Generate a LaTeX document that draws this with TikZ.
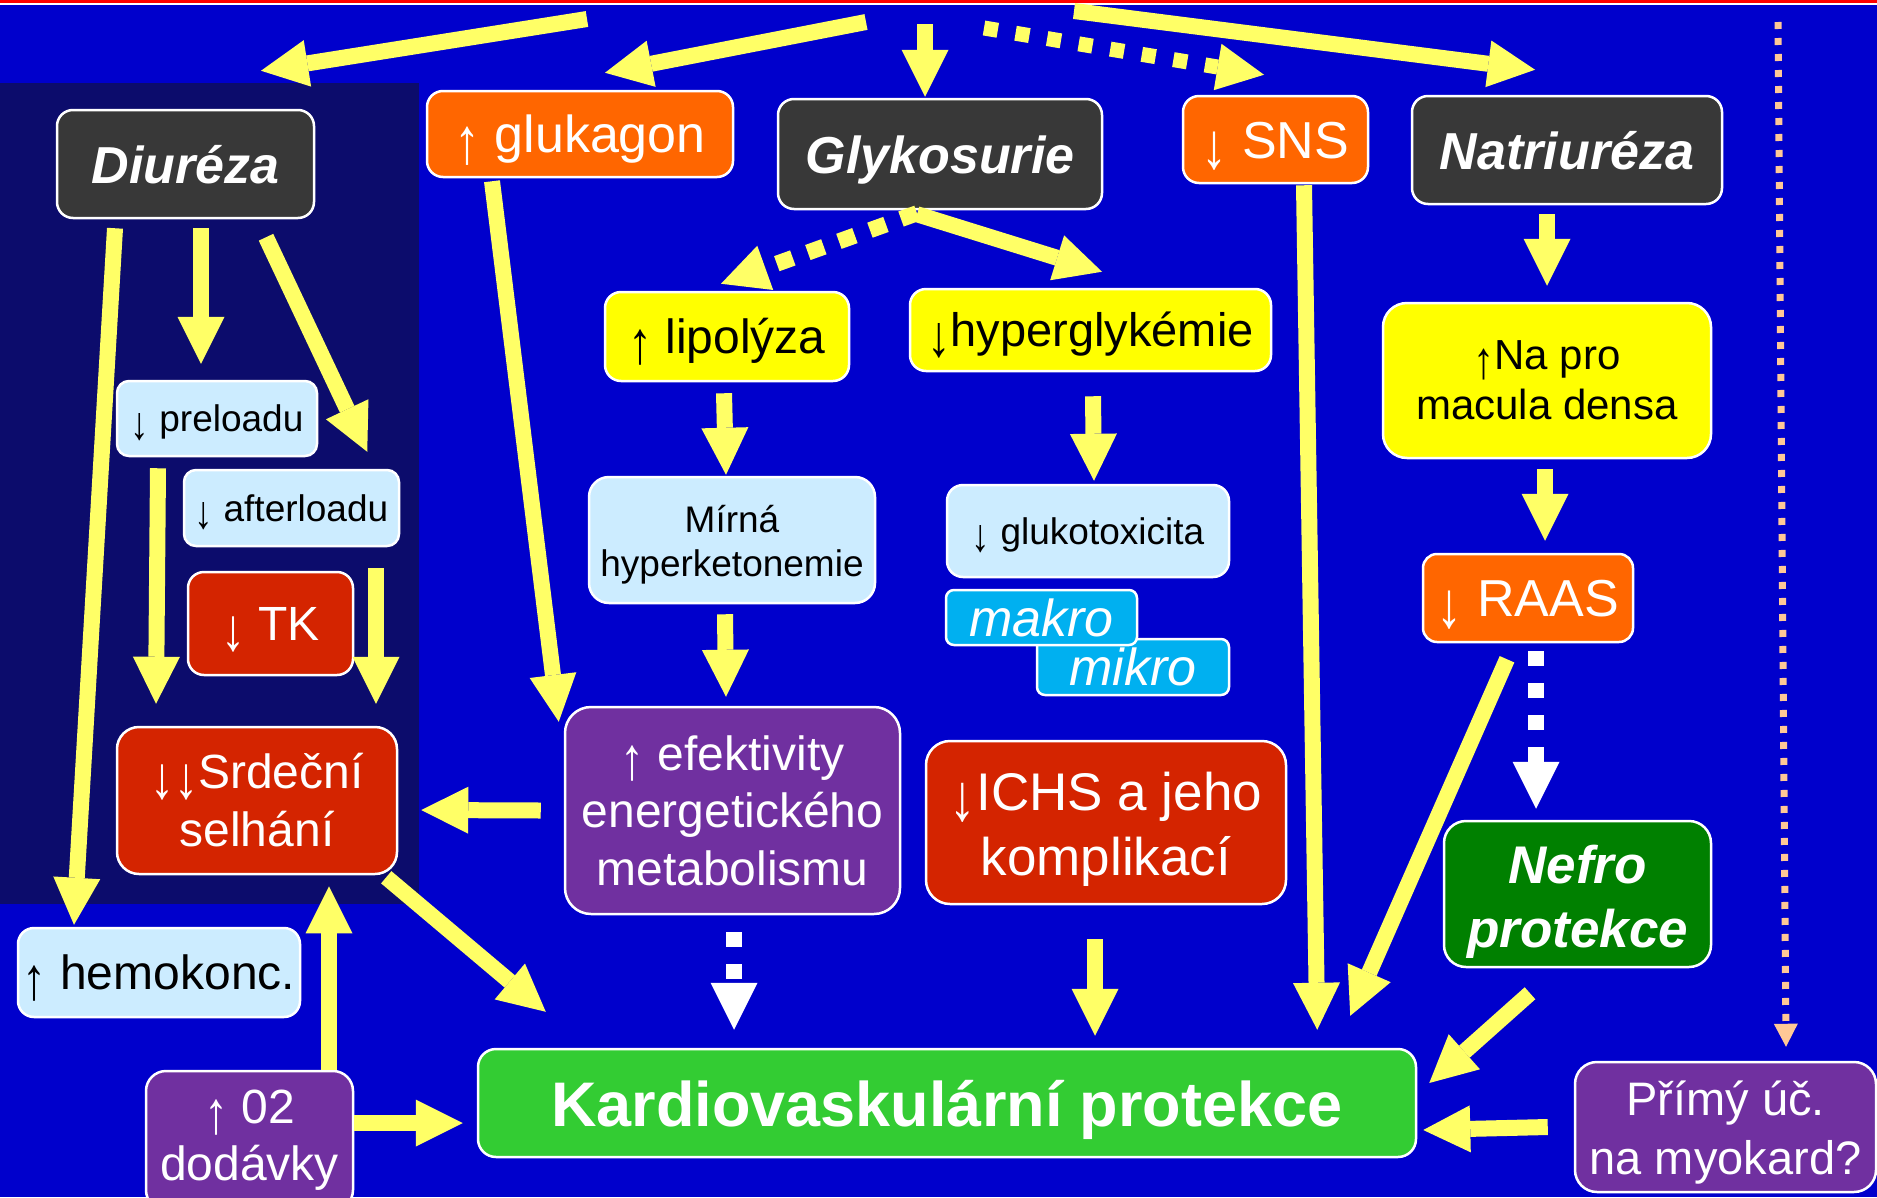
\documentclass[tikz,border=0pt]{standalone}
\usepackage{fontspec}
\usepackage{graphicx}
\setmainfont{Liberation Sans}
\usetikzlibrary{arrows.meta,calc}
\definecolor{bgblue}{HTML}{0000CC}
\definecolor{navy}{HTML}{0C0C6C}
\definecolor{ayel}{HTML}{FFFF66}
\definecolor{dgray}{HTML}{383838}
\definecolor{orng}{HTML}{FF6600}
\definecolor{byel}{HTML}{FFFF00}
\definecolor{lblue}{HTML}{CCECFF}
\definecolor{rd}{HTML}{D42400}
\definecolor{purp}{HTML}{7030A0}
\definecolor{dgreen}{HTML}{008000}
\definecolor{lgreen}{HTML}{33CC33}
\definecolor{cyanb}{HTML}{00B0F0}
\definecolor{peach}{HTML}{FFC896}
\newcommand\fsz[2]{\fontsize{#1}{#2}\selectfont}
\newcommand\ua{\raisebox{-0.2em}{\scalebox{1}[1.25]{↑}}}
\newcommand\da{\raisebox{-0.2em}{\scalebox{1}[1.25]{↓}}}
\newcommand\st{\rule[-0.22em]{0pt}{1.18em}}
\newcommand\sst{\rule[-0.16em]{0pt}{1.04em}}
\begin{document}
\begin{tikzpicture}[x=1pt,y=1pt,
 bx/.style={draw=white,line width=2.5pt,rounded corners=16pt,align=center,inner sep=0pt},
 yarr/.style={draw=ayel,line width=16pt,-{Triangle[length=47pt,width=47pt,line width=0pt]}},
 ydash/.style={yarr,dash pattern=on 17pt off 16pt},
 ytop/.style={yarr,line width=15pt,dash pattern=on 14pt off 18pt},
 warr/.style={draw=white,line width=16pt,dash pattern=on 15pt off 17pt,-{Triangle[length=47pt,width=47pt,line width=0pt]}},
 parr/.style={draw=peach,line width=7pt,dash pattern=on 7pt off 9pt,-{Triangle[length=23pt,width=24pt,line width=0pt]}},
 fdark/.style={font=\fsz{52}{62}\bfseries\itshape,text=white,fill=dgray},
]
\useasboundingbox (0,0) rectangle (1877,-1197);
\clip (0,0) rectangle (1877,-1197);
\fill[bgblue] (0,0) rectangle (1877,-1197);
\fill[navy] (0,-83) rectangle (419,-904);
\fill[red] (0,0) rectangle (1877,-3);
\fill[white] (0,-3) rectangle (1877,-4.5);

% nodes
\node[bx,fdark,minimum width=257pt,minimum height=108pt] (diur) at (185.5,-164) {\st Diuréza};
\node[bx,fill=orng,text=white,font=\fsz{52}{62},minimum width=306pt,minimum height=86pt] (gluk) at (580,-134) {\st\ua\ glukagon};
\node[bx,fdark,minimum width=324pt,minimum height=110pt] (glyk) at (940,-154) {\st Glykosurie};
\node[bx,fill=orng,text=white,font=\fsz{52}{62},minimum width=185pt,minimum height=87pt] (sns) at (1275.5,-139.5) {\st\da\ SNS};
\node[bx,fdark,minimum width=310pt,minimum height=108pt] (natr) at (1567,-150) {\st Natriuréza};
\node[bx,fill=byel,text=black,font=\fsz{48}{58},minimum width=244pt,minimum height=89pt] (lipo) at (727,-336.5) {\st\ua\ lipolýza};
\node[bx,fill=byel,text=black,font=\fsz{47}{56},minimum width=361pt,minimum height=82pt] (hypg) at (1090.5,-330) {\st\da hyperglykémie};
\node[bx,fill=byel,text=black,font=\fsz{42}{50},minimum width=328pt,minimum height=155pt,rounded corners=24pt] (napro) at (1547,-380.5) {\ua Na pro\\macula densa};
\node[bx,fill=lblue,text=black,font=\fsz{37}{44},minimum width=200pt,minimum height=75pt,rounded corners=12pt] (prel) at (217,-418.5) {\st\da\ preloadu};
\node[bx,fill=lblue,text=black,font=\fsz{37}{44},minimum width=215pt,minimum height=76pt,rounded corners=12pt] (aftl) at (291.5,-508) {\st\da\ afterloadu};
\node[bx,fill=rd,text=white,font=\fsz{48}{58},minimum width=165pt,minimum height=103pt] (tk) at (270.5,-623.5) {\st\da\ TK};
\node[bx,fill=rd,text=white,font=\fsz{48}{58},minimum width=280pt,minimum height=147pt,rounded corners=22pt] (srdc) at (257,-800.5) {\da\da Srdeční\\selhání};
\node[bx,fill=lblue,text=black,font=\fsz{37}{44},minimum width=286pt,minimum height=126pt,rounded corners=20pt] (mirna) at (732,-540) {\rule{0pt}{37pt}Mírná\\hyperketonemie};
\node[bx,fill=lblue,text=black,font=\fsz{37}{44},minimum width=282pt,minimum height=92pt] (gtox) at (1088,-531) {\st\da\ glukotoxicita};
\node[bx,fill=cyanb,text=white,font=\fsz{52}{62}\itshape,minimum width=192pt,minimum height=56pt,rounded corners=8pt] (mikro) at (1133,-667) {\sst mikro};
\node[bx,fill=cyanb,text=white,font=\fsz{52}{62}\itshape,minimum width=191pt,minimum height=55pt,rounded corners=8pt] (makro) at (1041.5,-617.5) {\sst makro};
\node[bx,fill=purp,text=white,font=\fsz{48}{57.5},minimum width=335pt,minimum height=207pt,rounded corners=26pt] (efek) at (732.5,-810.5) {\ua\ efektivity\\energetického\\metabolismu};
\node[bx,fill=rd,text=white,font=\fsz{53}{65},minimum width=360pt,minimum height=163pt,rounded corners=24pt] (ichs) at (1106,-822.5) {\rule{0pt}{51pt}\da ICHS a jeho\\komplikací};
\node[bx,fill=orng,text=white,font=\fsz{52}{62},minimum width=210pt,minimum height=88pt,rounded corners=14pt] (raas) at (1528,-598) {\st\da\ RAAS};
\node[bx,fdark,fill=dgreen,font=\fsz{53}{64}\bfseries\itshape,minimum width=267pt,minimum height=146pt,rounded corners=22pt] (nefro) at (1577.5,-894) {\rule{0pt}{53pt}Nefro\\protekce};
\node[bx,fill=lblue,text=black,font=\fsz{48}{58},minimum width=282pt,minimum height=89pt] (hemo) at (159,-972.5) {\st\ua\ hemokonc.};
\node[bx,fill=purp,text=white,font=\fsz{48}{57},minimum width=207pt,minimum height=139pt,rounded corners=20pt] (otwo) at (249.5,-1140.5) {\ua\ 02\\dodávky};
\node[bx,fill=lgreen,text=white,font=\fsz{63}{75}\bfseries,minimum width=938pt,minimum height=108pt,rounded corners=18pt] (kardio) at (947,-1103) {\st Kardiovaskulární protekce};
\node[bx,fill=purp,text=white,font=\fsz{47}{59},minimum width=301pt,minimum height=130pt,rounded corners=22pt] (primy) at (1725.5,-1127) {\rule{0pt}{45pt}Přímý úč.\\na myokard?};

% free starts at the top
\coordinate (t1) at (587,-19);
\coordinate (t2) at (866,-22);
\coordinate (t3) at (925,-24);
\coordinate (t4) at (984,-28);
\coordinate (t5) at (1074,-11);
\coordinate (t6) at (1778,-22);

\draw[yarr] (t1) -- ($(diur.north)+(75.5,38)$);
\draw[yarr] (t2) -- ($(gluk.north)+(25,17)$);
\draw[yarr] (t3) -- ($(glyk.north)+(-15,1)$);
\draw[ytop] (t4) -- ($(sns.north)+(-11.5,20)$);
\draw[yarr] (t5) -- ($(natr.north)+(-32,25)$);
\draw[parr] (t6) -- ($(primy.north)+(60.5,14)$);

% Diureza panel
\draw[yarr] ($(diur.south)+(-70.5,-9)$) -- ($(hemo.north)+(-85,2)$);
\draw[yarr] ($(diur.south)+(15.5,-9)$) -- ($(prel.north)+(-16,16)$);
\draw[yarr] ($(diur.south)+(80.5,-18)$) -- ($(aftl.north east)+(-33,17)$);
\draw[yarr] ($(prel.south)+(-59,-11)$) -- ($(srdc.north)+(-101,22)$);
\draw[yarr] ($(aftl.south)+(84.5,-21)$) -- ($(srdc.north)+(119,22)$);
\draw[yarr] ($(efek.west)+(-23,0)$) -- ($(srdc.east)+(23,-9.5)$);
\draw[yarr] ($(srdc.south east)+(-12,-2)$) -- ($(kardio.north west)+(69,36)$);
\draw[yarr] ($(otwo.north)+(79.5,0)$) -- ($(srdc.south)+(72,-11)$);
\draw[yarr] ($(otwo.east)+(0,17.5)$) -- ($(kardio.west)+(-14,-20)$);

% middle
\draw[yarr] ($(gluk.south)+(-88,-3)$) -- ($(efek.north west)+(-5,-16)$);
\draw[ydash] ($(glyk.south)+(-23,-3)$) -- ($(lipo.north)+(-6,7)$);
\draw[yarr] ($(glyk.south)+(-23,-4)$) -- ($(hypg.north)+(11.5,16)$);
\draw[yarr] ($(lipo.south)+(-3,-11)$) -- ($(mirna.north)+(-6,1)$);
\draw[yarr] ($(hypg.south)+(2.5,-24)$) -- ($(gtox.north)+(6,3)$);
\draw[yarr] ($(mirna.south)+(-7,-10)$) -- ($(efek.north)+(-6.5,9)$);
\draw[warr] ($(efek.south)+(1.5,-17)$) -- ($(kardio.north)+(-213,18)$);
\draw[yarr] ($(ichs.south)+(-11,-34)$) -- ($(kardio.north)+(148,12)$);
\draw[yarr] ($(sns.south)+(28.5,-1)$) -- ($(kardio.north east)+(-100,18)$);

% right
\draw[yarr] ($(natr.south)+(-20,-9)$) -- ($(napro.north)+(0,16)$);
\draw[yarr] ($(napro.south)+(-2,-10)$) -- ($(raas.north)+(17,12)$);
\draw[yarr] ($(raas.south)+(-21,-16)$) -- ($(kardio.north east)+(-67,32)$);
\draw[warr] ($(raas.south)+(8,-8)$) -- ($(nefro.north)+(-41.5,11)$);
\draw[yarr] ($(nefro.south)+(-47.5,-25)$) -- ($(kardio.east)+(12,20)$);
\draw[yarr] ($(primy.west)+(-26,0)$) -- ($(kardio.east)+(6,-27)$);
\end{tikzpicture}
\end{document}
